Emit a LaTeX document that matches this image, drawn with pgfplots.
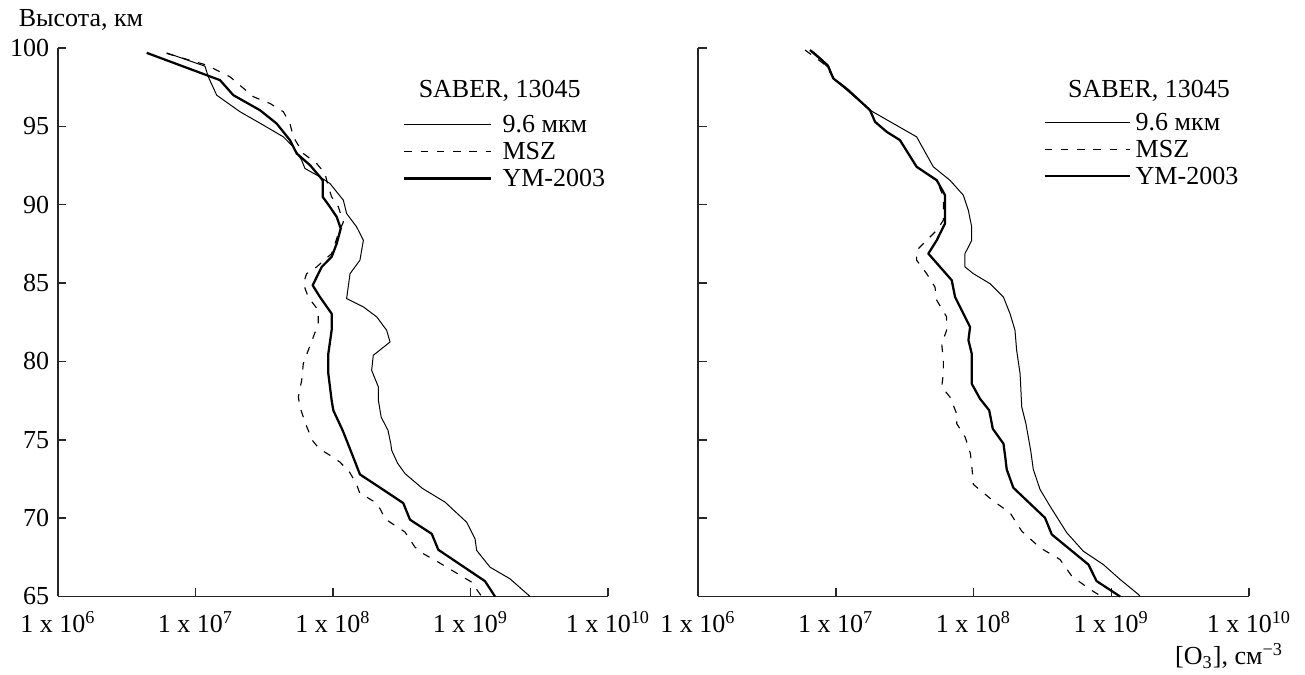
\documentclass[border=0pt]{standalone}
\usepackage{fontspec}
\setmainfont{Liberation Serif}
\usepackage{pgfplots}
\pgfplotsset{compat=1.18}

\tikzset{
  o3thin/.style={black, line width=0.4pt, line join=round},
  o3msz/.style={black, line width=0.45pt, dash pattern=on 3pt off 3.5pt, line join=round},
  o3thick/.style={black, line width=0.9pt, line join=round},
}

\begin{document}
\begin{tikzpicture}[font=\fontsize{10.4}{12.5}\selectfont]
\useasboundingbox (0,0) rectangle (522pt,270pt);

% ---------------- left panel ----------------
\begin{axis}[
  at={(23.2pt,31.4pt)}, anchor=south west,
  scale only axis, width=220pt, height=219.4pt,
  xmode=log, xmin=1e6, xmax=1e10, ymin=65, ymax=100,
  axis lines*=left,
  axis line style={line width=0.6pt, black!85},
  tick style={line width=0.6pt, black!85},
  tick align=inside, major tick length=3.4pt,
  xminorticks=false,
  xtick={1e6,1e7,1e8,1e9,1e10},
  xticklabels={1 x 10\textsuperscript{6},1 x 10\textsuperscript{7},1 x 10\textsuperscript{8},1 x 10\textsuperscript{9},1 x 10\textsuperscript{10}},
  xticklabel style={anchor=base, yshift=-14.4pt},
  ytick={65,70,75,80,85,90,95,100},
  yticklabels={65,70,75,80,85,90,95,100},
  ylabel={Высота, км},
  every axis y label/.style={at={(rel axis cs:0,1)}, anchor=base west, xshift=-19.2pt, yshift=8.4pt},
  legend cell align=left,
  legend image code/.code={\draw[#1] (0pt,0pt) -- (34.8pt,0pt); \path (38.8pt,0pt);},
  legend style={draw=none, fill=none, inner sep=0pt, row sep=0pt,
    nodes={inner sep=0pt, text height=8.5pt, text depth=2.3pt, anchor=west},
    at={(rel axis cs:0.627,0.886)}, anchor=north west},
  clip=false,
]
\addplot[o3thin] coordinates {
 (6.166e6,99.69) (1.172e7,98.84) (1.239e7,98.16) (1.426e7,96.99) (2.109e7,95.93)
 (3.112e7,95.08) (4.355e7,94.33) (5.140e7,93.69) (5.916e7,92.84) (6.252e7,92.31)
 (8.035e7,91.78) (9.506e7,91.35) (1.189e8,90.29) (1.256e8,89.44) (1.486e8,88.58)
 (1.663e8,87.73) (1.570e8,86.46) (1.330e8,85.60) (1.256e8,84.01) (1.663e8,83.48)
 (2.080e8,82.84) (2.455e8,81.99) (2.600e8,81.24) (1.963e8,80.39) (1.910e8,79.43)
 (2.138e8,78.37) (2.138e8,77.52) (2.239e8,76.45) (2.512e8,75.60) (2.630e8,74.75)
 (2.673e8,74.32) (2.951e8,73.50) (3.342e8,72.84) (4.467e8,71.90) (6.531e8,71.02)
 (9.376e8,69.74) (1.079e9,68.68) (1.109e9,67.94) (1.387e9,66.87) (1.936e9,66.13)
 (2.710e9,65.00)
};
\addlegendentry{9.6 мкм}
\addplot[o3msz] coordinates {
 (6.166e6,99.65) (1.205e7,98.91) (1.782e7,98.16) (2.636e7,96.89) (3.483e7,96.46)
 (4.355e7,95.93) (4.864e7,95.18) (5.140e7,94.33) (6.081e7,93.27) (7.603e7,92.63)
 (8.750e7,91.99) (9.247e7,91.14) (9.772e7,90.50) (1.094e8,89.86) (1.189e8,88.90)
 (1.094e8,88.16) (9.772e7,86.88) (7.603e7,86.03) (6.427e7,85.60) (6.081e7,84.96)
 (6.607e7,84.11) (7.816e7,83.26) (7.816e7,82.41) (7.194e7,81.56) (6.607e7,80.71)
 (6.081e7,79.86) (5.916e7,78.79) (5.598e7,77.73) (5.754e7,77.09) (6.310e7,76.03)
 (7.079e7,74.96) (7.943e7,74.43) (9.550e7,74.00) (1.122e8,73.58) (1.318e8,72.94)
 (1.479e8,72.19) (1.570e8,71.56) (1.758e8,71.34) (2.018e8,71.02) (2.198e8,70.60)
 (2.388e8,69.96) (2.600e8,69.74) (3.342e8,69.11) (3.945e8,68.15) (4.539e8,67.73)
 (5.834e8,67.19) (1.021e9,65.91) (1.205e9,65.00)
};
\addlegendentry{MSZ}
\addplot[o3thick] coordinates {
 (4.416e6,99.69) (1.507e7,97.95) (1.884e7,96.99) (2.944e7,96.03) (3.890e7,95.18)
 (4.864e7,94.12) (5.445e7,93.27) (6.808e7,92.52) (8.035e7,91.78) (8.414e7,91.56)
 (8.414e7,90.50) (9.506e7,89.86) (1.064e8,89.22) (1.138e8,88.48) (1.064e8,87.52)
 (9.772e7,86.67) (8.279e7,86.03) (7.112e7,84.86) (8.035e7,84.11) (9.772e7,83.05)
 (9.772e7,81.99) (9.247e7,80.50) (9.247e7,79.22) (9.772e7,77.52) (1.005e8,76.88)
 (1.175e8,75.60) (1.318e8,74.50) (1.445e8,73.60) (1.570e8,72.79) (2.239e8,71.90)
 (3.243e8,70.96) (3.631e8,69.90) (5.224e8,69.00) (5.834e8,67.98) (1.274e9,65.98)
 (1.507e9,65.00)
};
\addlegendentry{YM-2003}
\node[anchor=base] at (rel axis cs:0.803,0.909) {SABER, 13045};
\end{axis}

% ---------------- right panel ----------------
\begin{axis}[
  at={(279.2pt,31.4pt)}, anchor=south west,
  scale only axis, width=220.4pt, height=219.4pt,
  xmode=log, xmin=1e6, xmax=1e10, ymin=65, ymax=100,
  axis lines*=left,
  axis line style={line width=0.6pt, black!85},
  tick style={line width=0.6pt, black!85},
  tick align=inside, major tick length=3.4pt,
  xminorticks=false,
  xtick={1e6,1e7,1e8,1e9,1e10},
  xticklabels={1 x 10\textsuperscript{6},1 x 10\textsuperscript{7},1 x 10\textsuperscript{8},1 x 10\textsuperscript{9},1 x 10\textsuperscript{10}},
  xticklabel style={anchor=base, yshift=-14.4pt},
  ytick={65,70,75,80,85,90,95,100},
  yticklabels={},
  xlabel={[O\textsubscript{3}], см\textsuperscript{−3}},
  every axis x label/.style={at={(rel axis cs:1,0)}, anchor=base east, xshift=17.2pt, yshift=-27.2pt},
  legend cell align=left,
  legend image code/.code={\draw[#1] (0pt,0pt) -- (34pt,0pt); \path (36pt,0pt);},
  legend style={draw=none, fill=none, inner sep=0pt, row sep=0pt,
    nodes={inner sep=0pt, text height=8.5pt, text depth=2.3pt, anchor=west},
    at={(rel axis cs:0.626,0.890)}, anchor=north west},
  clip=false,
]
\addplot[o3thin] coordinates {
 (6.871e6,99.76) (8.831e6,98.91) (9.594e6,98.06) (1.774e7,96.03) (2.618e7,95.18)
 (3.864e7,94.33) (5.105e7,92.42) (6.745e7,91.56) (8.433e7,90.61) (9.162e7,89.65)
 (9.705e7,88.58) (9.705e7,87.73) (8.670e7,86.88) (8.670e7,86.03) (9.977e7,85.60)
 (1.318e8,84.96) (1.648e8,84.11) (1.841e8,83.05) (2.000e8,81.99) (2.056e8,80.71)
 (2.178e8,79.22) (2.239e8,77.09) (2.400e8,76.03) (2.600e8,74.32) (2.716e8,73.11)
 (3.041e8,71.83) (3.589e8,70.77) (4.753e8,69.07) (6.266e8,67.89) (8.750e8,67.04)
 (1.159e9,66.09) (1.574e9,65.13) (1.622e9,65.00)
};
\addlegendentry{9.6 мкм}
\addplot[o3msz] coordinates {
 (5.984e6,99.87) (8.128e6,99.01) (9.594e6,98.16) (1.233e7,97.31) (1.774e7,96.03)
 (1.928e7,95.29) (2.344e7,94.65) (2.924e7,94.12) (3.864e7,92.42) (5.408e7,91.56)
 (6.039e7,90.50) (6.039e7,89.01) (5.408e7,88.37) (4.571e7,87.73) (3.864e7,87.09)
 (3.864e7,86.46) (4.571e7,85.60) (5.248e7,84.75) (5.408e7,83.90) (6.383e7,82.84)
 (6.383e7,81.99) (5.875e7,81.13) (6.039e7,80.07) (6.039e7,79.22) (5.875e7,78.37)
 (6.745e7,77.73) (7.551e7,76.66) (7.551e7,76.03) (8.700e7,75.17) (9.500e7,74.11)
 (9.772e7,73.10) (9.977e7,72.15) (1.393e8,71.09) (1.841e8,70.34) (2.239e8,69.17)
 (3.041e8,68.11) (4.246e8,67.36) (5.164e8,66.30) (7.015e8,65.45) (8.511e8,65.00)
};
\addlegendentry{MSZ}
\addplot[o3thick] coordinates {
 (6.501e6,99.87) (7.907e6,99.23) (8.831e6,98.80) (9.594e6,98.06) (1.233e7,97.31)
 (1.774e7,96.03) (1.928e7,95.29) (2.344e7,94.65) (2.924e7,94.12) (3.864e7,92.42)
 (5.408e7,91.56) (6.209e7,90.61) (6.209e7,88.80) (5.408e7,87.73) (4.699e7,86.88)
 (5.715e7,86.03) (6.950e7,85.18) (7.345e7,84.11) (9.441e7,82.20) (9.183e7,81.35)
 (9.705e7,80.50) (9.705e7,78.58) (1.114e8,77.62) (1.300e8,76.88) (1.380e8,75.70)
 (1.650e8,74.75) (1.700e8,73.90) (1.742e8,73.11) (1.945e8,71.94) (3.304e8,70.02)
 (3.698e8,68.96) (6.823e8,67.04) (7.834e8,65.98) (1.159e9,65.00)
};
\addlegendentry{YM-2003}
\node[anchor=base] at (rel axis cs:0.8185,0.909) {SABER, 13045};
\end{axis}
\end{tikzpicture}
\end{document}
